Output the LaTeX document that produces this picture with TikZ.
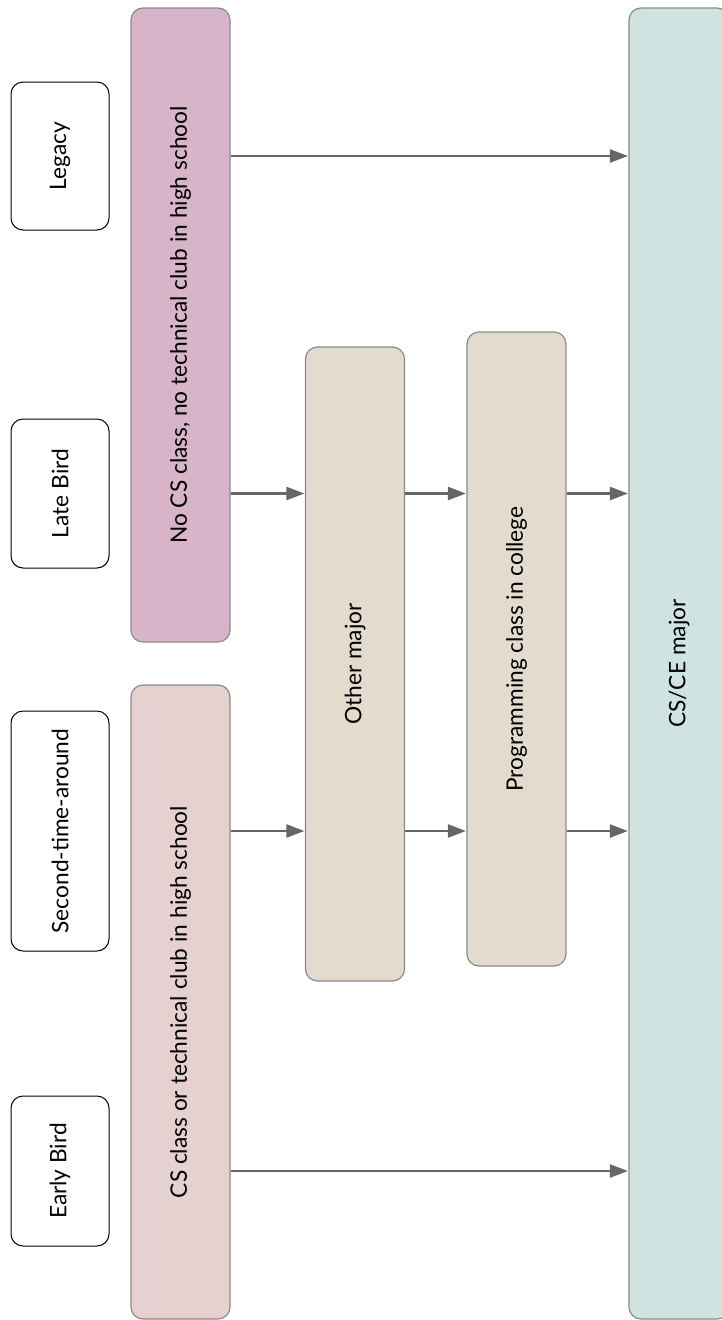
\documentclass[tikz,border=0pt]{standalone}
\usepackage{fontspec}
\setmainfont{Lato}
\usetikzlibrary{arrows.meta}
\definecolor{nocsc}{HTML}{D8B4C9}
\definecolor{clubc}{HTML}{E6D1D1}
\definecolor{beigec}{HTML}{E4DBCF}
\definecolor{tealc}{HTML}{CFE3E1}
\definecolor{edgec}{HTML}{8A8A8A}
\definecolor{arrc}{HTML}{666666}
\tikzset{
  person/.style={draw=black, line width=1pt, fill=white, rounded corners=12pt, minimum width=98pt, inner sep=0pt, font=\fontsize{22.7pt}{27pt}\selectfont},
  stage/.style={draw=edgec, line width=1.2pt, rounded corners=12pt, minimum width=99pt, inner sep=0pt, font=\fontsize{22.7pt}{27pt}\selectfont},
  arr/.style={draw=arrc, line width=2.4pt, -{Triangle[length=18pt,width=13pt]}, shorten >=0.5pt}
}
\begin{document}
\begin{tikzpicture}[x=1pt,y=-1pt]
\useasboundingbox (0,0) rectangle (722,1320);
\clip (0,0) rectangle (722,1320);
% people
\node[person, minimum height=148pt] (legacy) at (60,156) {\rotatebox{90}{Legacy}};
\node[person, minimum height=149pt] (late) at (60,493.5) {\rotatebox{90}{Late Bird}};
\node[person, minimum height=240pt] (second) at (60,831) {\rotatebox{90}{Second-time-around}};
\node[person, minimum height=150pt] (early) at (60,1171) {\rotatebox{90}{Early Bird}};
% stages
\node[stage, fill=nocsc, minimum height=634pt] (nocs) at (180.5,325) {\rotatebox{90}{No CS class, no technical club in high school}};
\node[stage, fill=clubc, minimum height=634pt] (club) at (180.5,1002) {\rotatebox{90}{CS class or technical club in high school}};
\node[stage, fill=beigec, minimum height=634pt] (other) at (355,664) {\rotatebox{90}{Other major}};
\node[stage, fill=beigec, minimum height=634pt] (prog) at (516.5,649) {\rotatebox{90}{Programming class in college}};
\node[stage, fill=tealc, minimum height=1311pt, minimum width=100pt] (cse) at (679,663.5) {\rotatebox{90}{CS/CE major}};
% arrows
\draw[arr] (nocs.east |- legacy) -- (cse.west |- legacy);
\draw[arr] (nocs.east |- late) -- (other.west |- late);
\draw[arr] (other.east |- late) -- (prog.west |- late);
\draw[arr] (prog.east |- late) -- (cse.west |- late);
\draw[arr] (club.east |- second) -- (other.west |- second);
\draw[arr] (other.east |- second) -- (prog.west |- second);
\draw[arr] (prog.east |- second) -- (cse.west |- second);
\draw[arr] (club.east |- early) -- (cse.west |- early);
\end{tikzpicture}
\end{document}
